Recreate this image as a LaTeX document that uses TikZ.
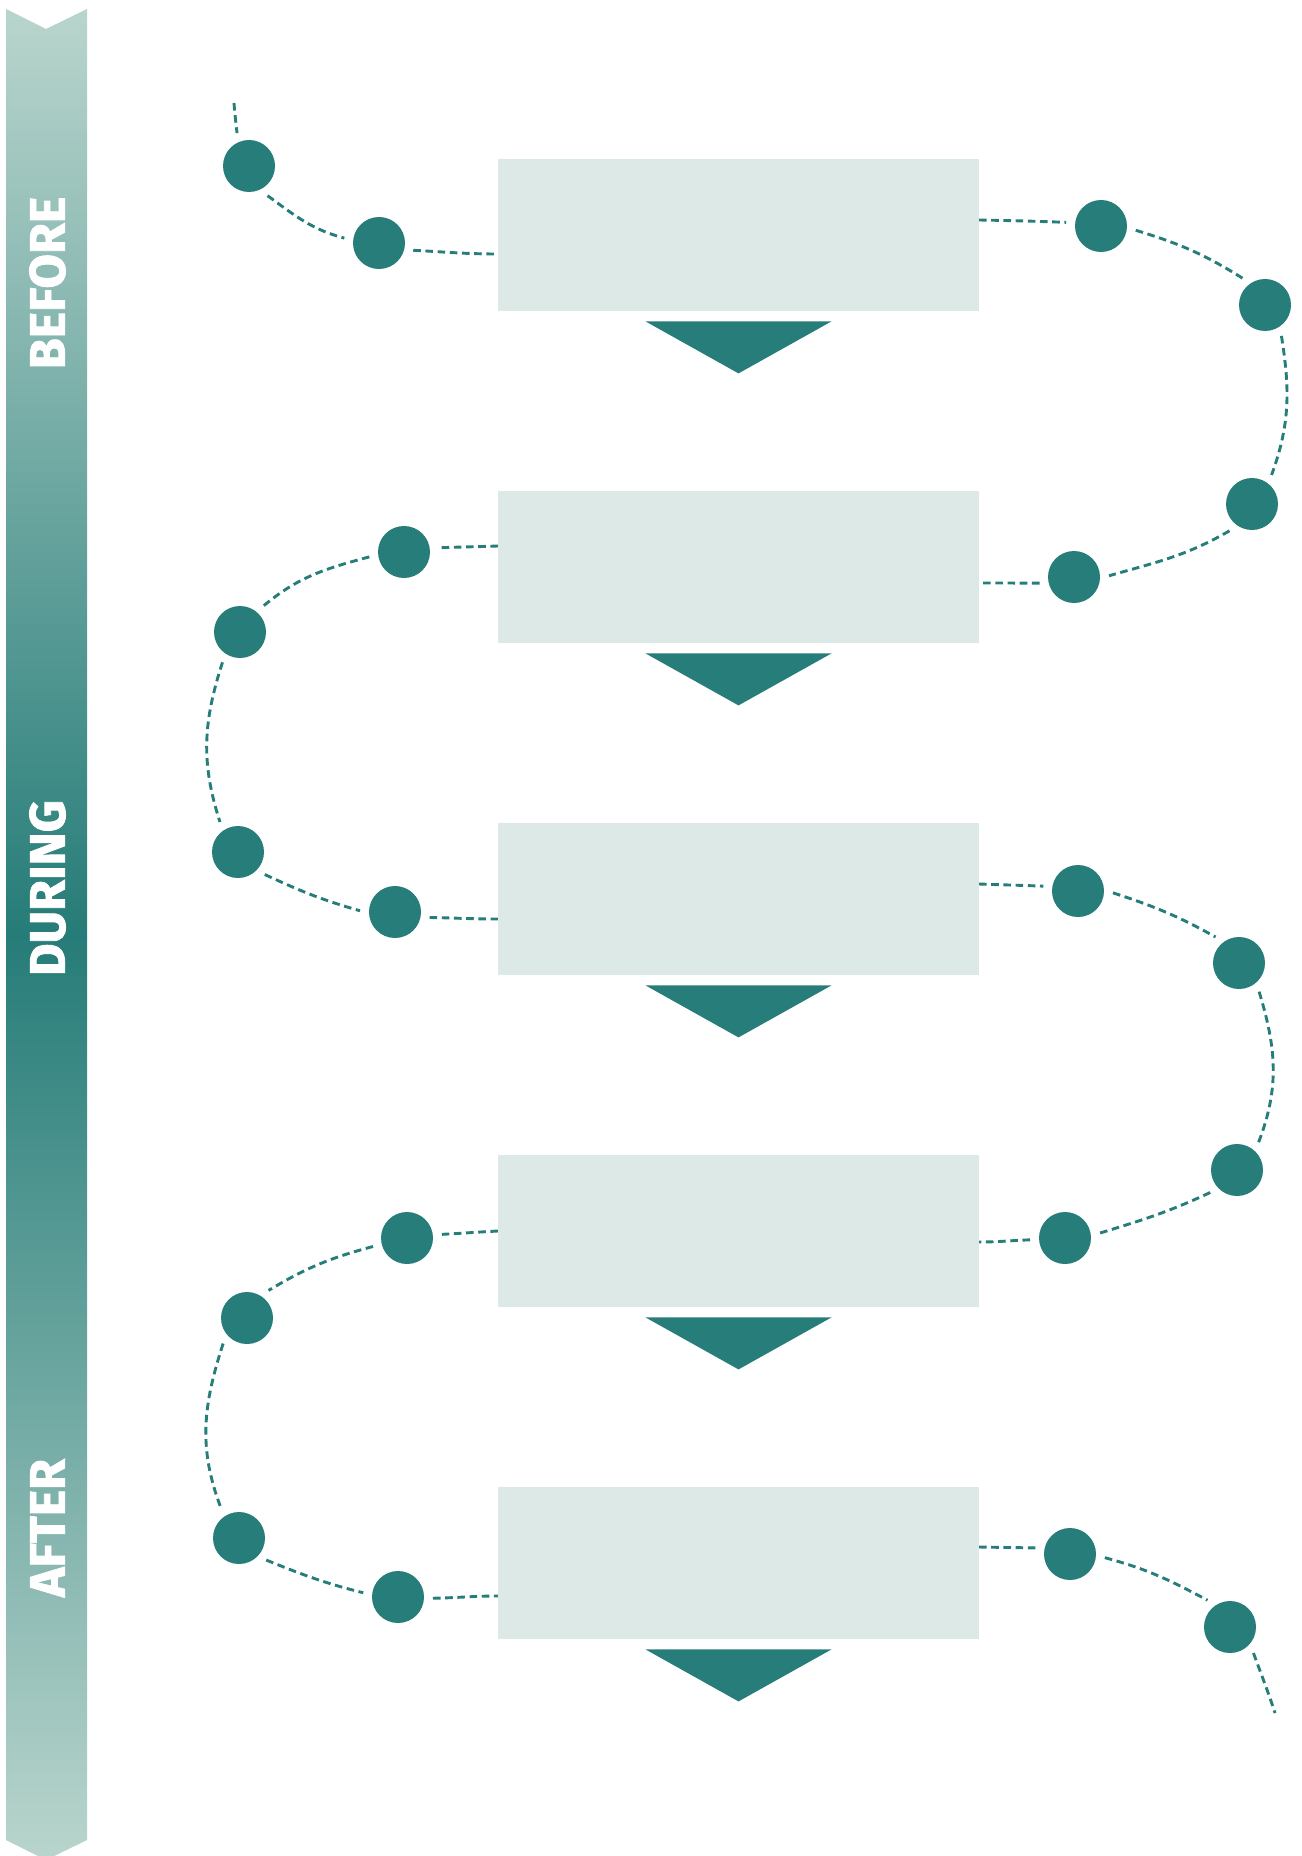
\documentclass[tikz,border=0pt]{standalone}
\usepackage{fontspec}
\newfontfamily\barfont{Fira Sans}[BoldFeatures={FakeBold=1.6}]
\usetikzlibrary{calc}
\definecolor{dotc}{RGB}{39,125,122}
\definecolor{boxc}{RGB}{221,233,230}
\definecolor{barlight}{RGB}{185,213,205}
\definecolor{bardark}{RGB}{38,124,120}
\begin{document}
\begin{tikzpicture}[x=0.5pt,y=-0.5pt,
  dotnode/.style={circle,fill=dotc,minimum size=26pt,inner sep=0pt},
  boxnode/.style={fill=boxc,minimum width=240.5pt,minimum height=76pt,inner sep=0pt},
  trail/.style={draw=dotc,line width=1.45pt,dash pattern=on 3.8pt off 2.3pt},
  phase/.style={text=white,rotate=90,inner sep=0pt,font=\barfont\bfseries\fontsize{25}{25}\selectfont}]
\useasboundingbox (0,0) rectangle (1301,1856);
% side bar
\shade[top color=barlight,bottom color=barlight,middle color=bardark]
  (6,9) -- (46,29) -- (87,9) -- (87,1840) -- (46,1860) -- (6,1840) -- cycle;
\node[phase] (tbefore) at (47.5,283) {BEFORE};
\node[phase] (tduring) at (47.5,888) {DURING};
\node[phase] (tafter) at (47.5,1528) {AFTER};
% dots
\foreach \n/\x/\y in {1/249/166,2/379/243,3/1101/226,4/1265/305,5/1252/504,6/1074/577,
  7/404/552,8/240/632,9/238/852,10/395/912,11/1078/891,12/1239/963,13/1237/1170,14/1065/1238,
  15/407/1238,16/247/1318,17/239/1538,18/398/1597,19/1070/1554,20/1230/1627}
  \node[dotnode] (d\n) at (\x,\y) {};
% gap points round the dots: (g<n>a) where the trail arrives, (g<n>b) where it leaves
\foreach \n/\a/\b in {1/110/-58,2/172/-12,3/174/-7,4/130/-62,5/56/230,6/2/190,
  7/7/188,8/48/240,9/121/-40,10/178/-9,11/172/-3,12/132/-55,13/52/220,14/8/183,
  15/6/194,16/52/227,17/121/-39,18/173/-2,19/170/-6,20/130/-48}{
  \coordinate (g\n a) at ([shift={(\a:17.5pt)}]d\n.center);
  \coordinate (g\n b) at ([shift={(\b:17.5pt)}]d\n.center);
}
% free ends and box edge points
\coordinate (s) at (234,103);
\coordinate (e) at (1275,1713);
\coordinate (r1w) at (498,254);  \coordinate (r1e) at (979,220);
\coordinate (r2e) at (979,583);  \coordinate (r2w) at (498,546);
\coordinate (r3w) at (498,919);  \coordinate (r3e) at (979,884);
\coordinate (r4e) at (979,1242); \coordinate (r4w) at (498,1231);
\coordinate (r5w) at (498,1596); \coordinate (r5e) at (979,1547);
% trail
\draw[trail] (s) to[out=-86,in=96] (g1a);
\draw[trail] (g1b) to[out=-36,in=165] (g2a);
\draw[trail] (g2b) to[out=-3,in=180] (r1w);
\draw[trail] (r1e) to[out=-1,in=178] (g3a);
\draw[trail] (g3b) to[out=-17,in=148] (g4a);
\draw[trail] (g4b) to[out=-81,in=70] (g5a);
\draw[trail] (g5b) to[out=210,in=16] (g6a);
\draw[trail] (g6b) to[out=180,in=0] (r2e);
\draw[trail] (r2w) to[out=182,in=2] (g7a);
\draw[trail] (g7b) to[out=195,in=40] (g8a);
\draw[trail] (g8b) to[out=252,in=108] (g9a);
\draw[trail] (g9b) to[out=-25,in=164] (g10a);
\draw[trail] (g10b) to[out=-1,in=180] (r3w);
\draw[trail] (r3e) to[out=-2,in=178] (g11a);
\draw[trail] (g11b) to[out=-18,in=151] (g12a);
\draw[trail] (g12b) to[out=-73,in=69] (g13a);
\draw[trail] (g13b) to[out=205,in=17] (g14a);
\draw[trail] (g14b) to[out=182,in=0] (r4e);
\draw[trail] (r4w) to[out=183,in=3] (g15a);
\draw[trail] (g15b) to[out=195,in=31] (g16a);
\draw[trail] (g16b) to[out=252,in=111] (g17a);
\draw[trail] (g17b) to[out=-22,in=166] (g18a);
\draw[trail] (g18b) to[out=1,in=180] (r5w);
\draw[trail] (r5e) to[out=-1,in=179] (g19a);
\draw[trail] (g19b) to[out=-15,in=152] (g20a);
\draw[trail] (g20b) to[out=-70,in=108] (e);
% boxes and arrows
\foreach \i/\y in {1/235,2/567,3/899,4/1231,5/1563}{
  \node[boxnode] (r\i) at (738.5,\y) {};
  \fill[dotc] (r\i.south) ++(-93,10) -- ++(186,0) -- ++(-93,52) -- cycle;
}
\end{tikzpicture}
\end{document}
